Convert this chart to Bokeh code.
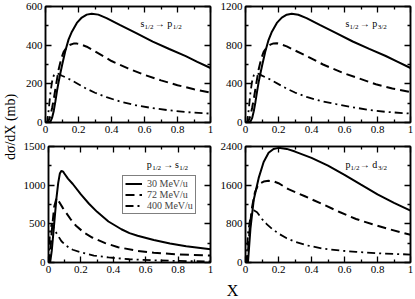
import math
from bokeh.plotting import figure
from bokeh.models import (Range1d, LinearAxis, FixedTicker, NumeralTickFormatter,
                          CustomJSTickFormatter, Label, Legend, LegendItem)
from bokeh.layouts import row, column
from bokeh.embed import file_html
from bokeh.resources import INLINE

FONT = "Liberation Serif"

# ---------------- data ----------------
energies = ["30 MeV/u", "72 MeV/u", "400 MeV/u"]
y_label = "dσ/dX (mb)"
x_label = "X"

x_ticks = [0, 0.2, 0.4, 0.6, 0.8, 1.0]
x_minor = [0.1, 0.3, 0.5, 0.7, 0.9]

y_max = [600, 1200, 1500, 2400]
y_ticks = [[0, 200, 400, 600], [0, 400, 800, 1200], [0, 500, 1000, 1500], [0, 800, 1600, 2400]]
y_minor = [[100, 300, 500], [200, 600, 1000], [250, 750, 1250], [400, 1200, 2000]]

# transitions: (initial, sub, final, sub)
trans = [("s", "1/2", "p", "1/2"), ("s", "1/2", "p", "3/2"),
         ("p", "1/2", "s", "1/2"), ("p", "1/2", "d", "3/2")]

# panel 1: s1/2 -> p1/2
p1_x_30 = [0, 0.02, 0.03, 0.04, 0.05, 0.06, 0.07, 0.08, 0.09, 0.10, 0.12, 0.14, 0.16, 0.19, 0.22, 0.25, 0.28, 0.32, 0.37, 0.45, 0.55, 0.65, 0.75, 0.85, 0.92, 1.0]
p1_y_30 = [0, 0, 5, 25, 60, 110, 165, 212, 255, 295, 370, 430, 470, 515, 543, 558, 563, 558, 540, 505, 462, 418, 380, 343, 314, 282]
p1_x_72 = [0, 0.015, 0.03, 0.04, 0.05, 0.065, 0.08, 0.095, 0.11, 0.13, 0.15, 0.17, 0.19, 0.21, 0.25, 0.3, 0.4, 0.5, 0.6, 0.7, 0.8, 0.9, 1.0]
p1_y_72 = [0, 0, 35, 75, 120, 200, 275, 330, 365, 390, 402, 408, 408, 405, 392, 368, 318, 280, 246, 218, 193, 172, 154]
p1_x_400 = [0, 0.01, 0.02, 0.03, 0.04, 0.05, 0.065, 0.08, 0.1, 0.15, 0.2, 0.25, 0.3, 0.37, 0.45, 0.55, 0.65, 0.75, 0.85, 1.0]
p1_y_400 = [0, 0, 70, 155, 212, 243, 255, 251, 242, 222, 198, 174, 154, 131, 109, 89, 74, 63, 54, 46]

# panel 2: s1/2 -> p3/2
p2_x_30 = [0, 0.02, 0.03, 0.04, 0.05, 0.06, 0.07, 0.08, 0.09, 0.10, 0.12, 0.14, 0.16, 0.19, 0.22, 0.25, 0.28, 0.32, 0.37, 0.45, 0.55, 0.65, 0.75, 0.85, 0.92, 1.0]
p2_y_30 = [0, 0, 10, 45, 115, 210, 320, 420, 505, 585, 735, 855, 940, 1030, 1085, 1115, 1125, 1115, 1080, 1010, 925, 838, 762, 688, 630, 564]
p2_x_72 = [0, 0.015, 0.03, 0.04, 0.05, 0.065, 0.08, 0.095, 0.11, 0.13, 0.15, 0.17, 0.19, 0.21, 0.25, 0.3, 0.37, 0.47, 0.59, 0.69, 0.79, 0.89, 1.0]
p2_y_72 = [0, 0, 70, 150, 240, 400, 550, 660, 730, 780, 805, 818, 820, 812, 788, 745, 688, 600, 513, 455, 395, 352, 316]
p2_x_400 = [0, 0.01, 0.02, 0.03, 0.04, 0.05, 0.065, 0.08, 0.1, 0.15, 0.2, 0.25, 0.3, 0.37, 0.45, 0.55, 0.65, 0.75, 0.85, 1.0]
p2_y_400 = [0, 0, 140, 310, 425, 487, 510, 503, 485, 445, 397, 350, 310, 265, 225, 190, 158, 130, 110, 92]

# panel 3: p1/2 -> s1/2
p3_x_30 = [0, 0.01, 0.02, 0.03, 0.04, 0.05, 0.06, 0.07, 0.08, 0.09, 0.10, 0.12, 0.15, 0.2, 0.25, 0.3, 0.37, 0.45, 0.5, 0.55, 0.65, 0.75, 0.85, 1.0]
p3_y_30 = [0, 0, 150, 380, 620, 850, 1030, 1150, 1185, 1175, 1145, 1085, 1015, 880, 760, 655, 530, 430, 380, 345, 290, 246, 210, 172]
p3_x_72 = [0, 0.005, 0.02, 0.035, 0.05, 0.07, 0.09, 0.11, 0.14, 0.17, 0.22, 0.27, 0.35, 0.43, 0.55, 0.65, 0.8, 1.0]
p3_y_72 = [0, 0, 400, 720, 835, 770, 700, 640, 550, 475, 385, 323, 250, 198, 150, 125, 105, 90]
p3_x_400 = [0, 0.01, 0.02, 0.03, 0.045, 0.06, 0.08, 0.11, 0.15, 0.21, 0.28, 0.37, 0.5, 0.65, 0.8, 1.0]
p3_y_400 = [0, 420, 500, 455, 395, 342, 275, 215, 165, 125, 90, 65, 42, 28, 20, 14]

# panel 4: p1/2 -> d3/2
p4_x_30 = [0, 0.015, 0.03, 0.05, 0.08, 0.11, 0.14, 0.17, 0.2, 0.25, 0.3, 0.4, 0.5, 0.6, 0.7, 0.8, 0.9, 1.0]
p4_y_30 = [0, 0, 700, 1300, 1750, 2080, 2270, 2350, 2372, 2350, 2295, 2165, 2005, 1815, 1610, 1410, 1235, 1073]
p4_x_72 = [0, 0.01, 0.027, 0.04, 0.057, 0.075, 0.09, 0.11, 0.14, 0.17, 0.2, 0.26, 0.36, 0.465, 0.57, 0.67, 0.77, 0.87, 1.0]
p4_y_72 = [0, 0, 766, 1150, 1450, 1590, 1640, 1675, 1690, 1680, 1640, 1518, 1370, 1210, 1045, 900, 790, 690, 574]
p4_x_400 = [0, 0.005, 0.015, 0.03, 0.05, 0.07, 0.1, 0.13, 0.16, 0.2, 0.25, 0.3, 0.38, 0.465, 0.57, 0.67, 0.8, 1.0]
p4_y_400 = [0, 0, 600, 950, 1080, 1040, 900, 790, 700, 600, 500, 430, 350, 290, 248, 220, 192, 164]

panels = [
    [(p1_x_30, p1_y_30), (p1_x_72, p1_y_72), (p1_x_400, p1_y_400)],
    [(p2_x_30, p2_y_30), (p2_x_72, p2_y_72), (p2_x_400, p2_y_400)],
    [(p3_x_30, p3_y_30), (p3_x_72, p3_y_72), (p3_x_400, p3_y_400)],
    [(p4_x_30, p4_y_30), (p4_x_72, p4_y_72), (p4_x_400, p4_y_400)],
]

# ---------------- styling ----------------
line_styles = [dict(line_dash="solid", line_width=2.0),
               dict(line_dash="9 5", line_width=2.0),
               dict(line_dash="8 4 2 4", line_width=1.8)]


def style_axis(ax, show):
    ax.axis_line_width = 1.5
    ax.axis_line_color = "black"
    ax.major_tick_in = 6
    ax.major_tick_out = 0
    ax.minor_tick_in = 3
    ax.minor_tick_out = 0
    ax.major_tick_line_width = 1.3
    ax.minor_tick_line_width = 1.3
    ax.major_tick_line_color = "black"
    ax.minor_tick_line_color = "black"
    ax.major_label_text_font = FONT
    ax.major_label_text_color = "black"
    ax.major_label_text_font_size = "11px"
    ax.major_label_standoff = 3 if show else 0


def make_fig(i, w, h, bl, br, bt, bb):
    p = figure(width=w, height=h, x_range=Range1d(0, 1), y_range=Range1d(0, y_max[i]),
               output_backend="svg", toolbar_location=None,
               x_axis_type=None, y_axis_type=None,
               min_border_left=bl, min_border_right=br,
               min_border_top=bt, min_border_bottom=bb)
    p.outline_line_color = "black"
    p.outline_line_width = 1.5
    for place, show in (("below", True), ("above", False)):
        fmt = NumeralTickFormatter(format="0.[0]") if show else CustomJSTickFormatter(code="return ''")
        ax = LinearAxis(ticker=FixedTicker(ticks=x_ticks, minor_ticks=x_minor), formatter=fmt)
        style_axis(ax, show)
        p.add_layout(ax, place)
    for place, show in (("left", True), ("right", False)):
        fmt = NumeralTickFormatter(format="0") if show else CustomJSTickFormatter(code="return ''")
        ax = LinearAxis(ticker=FixedTicker(ticks=y_ticks[i], minor_ticks=y_minor[i]), formatter=fmt)
        style_axis(ax, show)
        p.add_layout(ax, place)
    rends = []
    for (xs, ys), st in zip(panels[i], line_styles):
        rends.append(p.line(xs, ys, line_color="black", **st))
    return p, rends


def add_trans(p, i, xfrac, yfrac, offs):
    a, sa, b, sb = trans[i]
    yd = y_max[i] * yfrac
    parts = [(a, offs[0], 0, "10px"), (sa, offs[1], -3.5, "7px"),
             ("→", offs[2], 0, "10px"), (b, offs[3], 0, "10px"), (sb, offs[4], -3.5, "7px")]
    for t, dx, dy, fs in parts:
        p.add_layout(Label(x=xfrac, y=yd, text=t, x_offset=dx, y_offset=dy,
                           text_font=FONT, text_font_size=fs, text_color="black",
                           text_align="left", text_baseline="alphabetic"))


# frames: left 45..210, right 245..410 ; top 6..122, bottom 146..262
f1, _ = make_fig(0, 193, 139, 25, 3, 6, 17)
f2, _ = make_fig(1, 201, 139, 32, 4, 6, 17)
f3, r3 = make_fig(2, 193, 139, 25, 3, 7, 16)
f4, _ = make_fig(3, 201, 139, 32, 4, 7, 16)

add_trans(f1, 0, 0.576, 0.857, (0, 4, 14.3, 26.7, 32.3))
add_trans(f2, 1, 0.606, 0.857, (0, 4, 14.3, 26.7, 32.3))
add_trans(f3, 2, 0.606, 0.845, (0, 5.5, 16.5, 28.3, 32.5))
add_trans(f4, 3, 0.606, 0.845, (0, 5, 14.3, 26.7, 32.5))

legend = Legend(items=[LegendItem(label=lab, renderers=[r]) for lab, r in zip(energies, r3)],
                location=(74, 48), label_text_font=FONT, label_text_font_size="10px",
                label_height=9, glyph_height=9, glyph_width=17, label_standoff=5,
                spacing=-2, padding=2, margin=0, border_line_color="black",
                border_line_width=1, background_fill_color="white", background_fill_alpha=1)
f3.add_layout(legend)

left_strip = figure(width=20, height=278, x_range=Range1d(0, 1), y_range=Range1d(0, 1),
                    output_backend="svg", toolbar_location=None, min_border=0,
                    x_axis_type=None, y_axis_type=None)
left_strip.outline_line_color = None
left_strip.add_layout(Label(x=0.5, y=0.545, text=y_label, angle=math.pi / 2,
                            text_align="center", text_baseline="middle",
                            text_font=FONT, text_font_size="14px", text_color="black"))

bottom_strip = figure(width=414, height=20, x_range=Range1d(0, 1), y_range=Range1d(0, 1),
                      output_backend="svg", toolbar_location=None, min_border=0,
                      x_axis_type=None, y_axis_type=None)
bottom_strip.outline_line_color = None
bottom_strip.add_layout(Label(x=232 / 414, y=0.4, text=x_label,
                              text_align="center", text_baseline="middle",
                              text_font=FONT, text_font_size="16px", text_color="black"))

layout = column(row(left_strip, column(row(f1, f2), row(f3, f4))), bottom_strip)

open("out.html", "w").write(file_html(layout, INLINE))
